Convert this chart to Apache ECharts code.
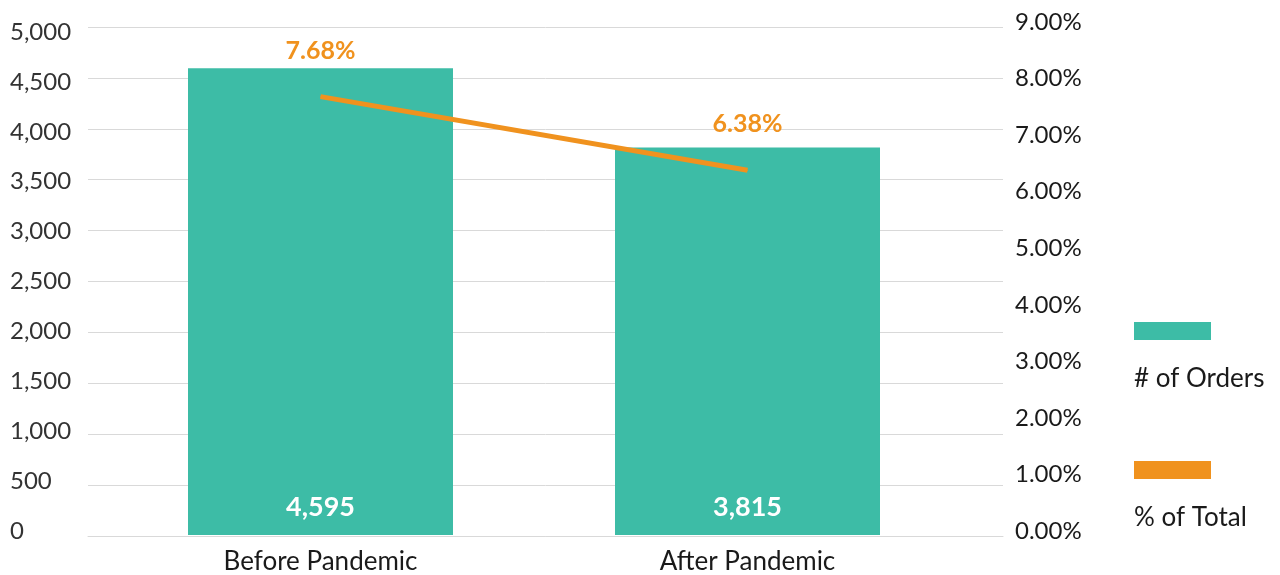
<!DOCTYPE html>
<html>
<head>
<meta charset="utf-8">
<script src="https://cdn.jsdelivr.net/npm/echarts@6/dist/echarts.min.js"></script>
<style>
  html, body { margin: 0; padding: 0; background: #ffffff; }
  #chart { width: 1280px; height: 575px; }
</style>
</head>
<body>
<div id="chart"></div>
<script>
// Orders before / after the pandemic and their share of all orders
const categories = ['Before Pandemic', 'After Pandemic'];
const orderCounts = [4595, 3815];
const shareOfTotal = [7.68, 6.38];
const seriesNames = ['# of Orders', '% of Total'];

const TEAL = '#3dbca6';
const ORANGE = '#f0921e';
const FONT = 'Lato, "Open Sans", sans-serif';

const chart = echarts.init(document.getElementById('chart'), null, { renderer: 'canvas' });

// grid 0: gridlines; grid 1: bars + categories; grid 2: share line + percent axis;
// grid 3: count axis labels
chart.setOption({
  animation: false,
  textStyle: { fontFamily: FONT },
  grid: [
    { left: 88, right: 277, top: 27, bottom: 39 },
    { left: 107, right: 319, top: 27, bottom: 39 },
    { left: 107, right: 319, top: 22, bottom: 44 },
    { left: 88, right: 277, top: 32, bottom: 44 }
  ],
  legend: {
    orient: 'vertical',
    left: 1134,
    top: 259,
    padding: 0,
    itemWidth: 77,
    itemHeight: 18,
    itemGap: -5,
    icon: 'rect',
    data: seriesNames,
    formatter: name => '\n\n' + name,
    textStyle: {
      fontFamily: FONT,
      fontSize: 26,
      lineHeight: 48,
      color: '#1a1a1a',
      padding: [0, 0, 0, -82]
    }
  },
  xAxis: [
    {
      gridIndex: 0,
      type: 'category',
      data: categories,
      axisTick: { show: false },
      axisLabel: { show: false },
      axisLine: { lineStyle: { color: '#d9d9d9', width: 1 } }
    },
    {
      gridIndex: 1,
      type: 'category',
      data: categories,
      axisTick: { show: false },
      axisLine: { show: false },
      axisLabel: { fontFamily: FONT, fontSize: 26, color: '#1a1a1a', margin: 14 }
    },
    { gridIndex: 2, type: 'category', data: categories, show: false },
    { gridIndex: 3, type: 'category', data: categories, show: false }
  ],
  yAxis: [
    {
      gridIndex: 0,
      type: 'value',
      min: 0,
      max: 5000,
      interval: 500,
      axisLine: { show: false },
      axisTick: { show: false },
      axisLabel: { show: false },
      splitLine: { lineStyle: { color: '#d9d9d9', width: 1 } }
    },
    {
      gridIndex: 1,
      type: 'value',
      min: 0,
      max: 5000,
      interval: 500,
      show: false,
      splitLine: { show: false }
    },
    {
      gridIndex: 2,
      type: 'value',
      position: 'right',
      min: 0,
      max: 9,
      interval: 1,
      axisLine: { show: false },
      axisTick: { show: false },
      splitLine: { show: false },
      axisLabel: {
        fontFamily: FONT,
        fontSize: 24,
        color: '#1a1a1a',
        align: 'left',
        margin: 54,
        formatter: v => v.toFixed(2) + '%'
      }
    },
    {
      gridIndex: 3,
      type: 'value',
      min: 0,
      max: 5000,
      interval: 500,
      axisLine: { show: false },
      axisTick: { show: false },
      splitLine: { show: false },
      axisLabel: {
        fontFamily: FONT,
        fontSize: 24,
        color: '#333333',
        align: 'left',
        margin: 78,
        formatter: v => v.toLocaleString('en-US')
      }
    }
  ],
  series: [
    {
      name: seriesNames[0],
      type: 'bar',
      xAxisIndex: 1,
      yAxisIndex: 1,
      data: orderCounts,
      barWidth: 265,
      itemStyle: { color: TEAL },
      label: {
        show: true,
        position: 'insideBottom',
        distance: 14,
        color: '#ffffff',
        fontFamily: FONT,
        fontSize: 27,
        fontWeight: 'bold',
        formatter: p => p.value.toLocaleString('en-US')
      }
    },
    {
      name: seriesNames[1],
      type: 'line',
      xAxisIndex: 2,
      yAxisIndex: 2,
      data: shareOfTotal,
      symbol: 'circle',
      symbolSize: 1,
      showSymbol: true,
      lineStyle: { color: ORANGE, width: 5 },
      itemStyle: { color: ORANGE },
      label: {
        show: true,
        position: 'top',
        distance: 33,
        color: ORANGE,
        fontFamily: FONT,
        fontSize: 25,
        fontWeight: 'bold',
        formatter: p => p.value.toFixed(2) + '%'
      }
    }
  ]
});
</script>
</body>
</html>
